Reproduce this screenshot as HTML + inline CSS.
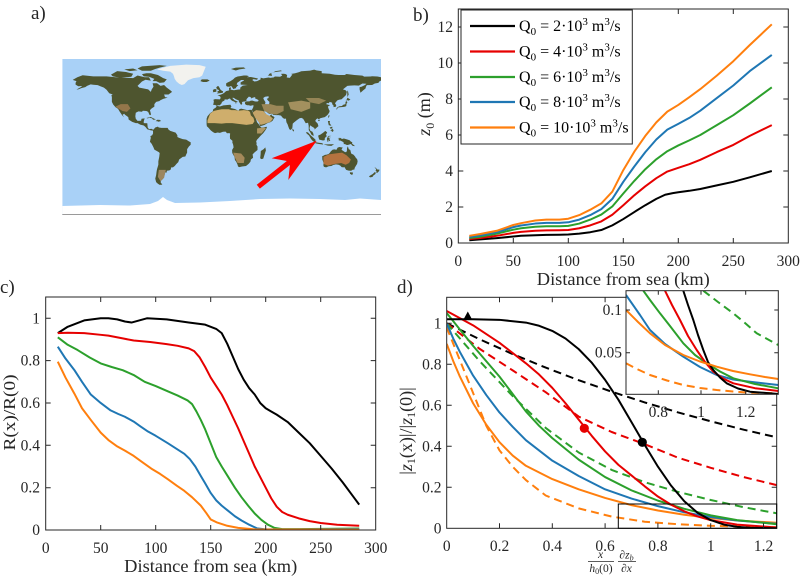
<!DOCTYPE html>
<html><head><meta charset="utf-8"><style>
html,body{margin:0;padding:0;background:#fff;}
svg{display:block;font-family:"Liberation Serif","DejaVu Serif","Times New Roman",serif;}
text,tspan{font-family:"Liberation Serif","DejaVu Serif","Times New Roman",serif;}
</style></head><body>
<svg width="800" height="577" viewBox="0 0 800 577" xmlns="http://www.w3.org/2000/svg" font-family="Liberation Serif, DejaVu Serif, serif">
<defs>
<clipPath id="cm"><rect x="62.3" y="59" width="318.7" height="156"/></clipPath>
<clipPath id="cb"><rect x="458.3" y="9" width="330" height="234"/></clipPath>
<clipPath id="cc"><rect x="45.7" y="297" width="330" height="233"/></clipPath>
<clipPath id="cd"><rect x="446.7" y="297.3" width="330" height="231"/></clipPath>
<clipPath id="ci"><rect x="626" y="290.7" width="152.3" height="103.6"/></clipPath>
</defs>

<!-- ============ PANEL A: map ============ -->
<text x="31" y="19" font-size="19" fill="#262626">a)</text>
<g clip-path="url(#cm)">
<rect x="62.3" y="59" width="318.7" height="156" fill="#a9d1f7"/>
<g transform="matrix(0.8853 0 0 -0.8667 221.65 137)" fill="#4e552f">
<polygon points="-168,66 -163,69 -157,71.3 -145,70 -130,70 -120,69 -110,68.5 -100,68 -95,71 -87,69 -82,69 -80,65 -86,66 -90,64 -93,61 -95,59 -93,57 -88,56 -83,55 -80,52 -79,55 -77,58 -78,62 -73,62 -69,59 -65,60 -62,57 -58,54 -56,52 -60,49 -65,49 -64,46 -61,45.5 -66,44 -70,42 -70,41.5 -74,40.5 -76,38 -76,35 -79,33 -81,31 -80,27 -80,25.3 -81.5,25.5 -83,29 -85,30 -89,30.3 -90,29.2 -94,29.6 -97,28 -97.5,24 -97,21 -95,18.6 -91,18.7 -90.5,21 -87,21.5 -88,18 -88,16 -84,15.8 -83.5,11 -82,9 -79.5,9.5 -77.5,8.5 -79,7.5 -81,8 -84,9 -86,11.5 -88,13.2 -92,14.3 -95,16 -97,16 -101,17.5 -105,20 -105.5,23 -109,25.5 -112,29 -114.5,31.5 -113,31 -110,27 -112,25.5 -110,23 -112,24.5 -115,29 -117,32.5 -120,34.5 -122.5,37.5 -124,40.5 -124,46 -124.5,48.3 -123,49 -127,50.5 -130,54.5 -133,57 -137,58.5 -140,59.8 -145,60.3 -148,60.7 -152,59 -154,57.5 -158,56.5 -162,55 -164,54.8 -159,57.5 -157.5,58.8 -162,58.6 -165,60.5 -165,62.5 -164,64.5 -168,65.7"/>
<polygon points="-80,73.5 -72,71.5 -66,68 -62,66.5 -65,63 -70,62.5 -74,64.5 -78,64.5 -76,67 -82,69.5 -88,70 -90,72.5 -85,73.5"/>
<polygon points="-90,76.5 -80,76.5 -75,78.5 -70,80 -62,82 -70,83 -90,81.5 -95,79"/>
<polygon points="-125,72 -118,76 -108,75 -100,73 -102,69.5 -115,68.5 -123,70"/>
<polygon points="-110,78 -100,79 -95,77 -104,76"/>
<polygon points="-24,64.5 -22.5,66.5 -16,66.5 -13.5,65 -17,63.5 -21,63.5"/>
<polygon points="-85,21.9 -82,22.7 -80,23.1 -77,21.5 -74.2,20.2 -77.5,19.9 -78.5,21.5 -81.5,22.2 -83.5,21.5"/>
<polygon points="-74.5,18.3 -72.7,19.9 -70,19.7 -68.4,18.5 -71.4,17.6 -72.5,18.2"/>
<polygon points="-80,8.5 -77,8.5 -75,11 -72,12 -71,11 -68,10.5 -64,10.5 -61,10.5 -60,8.5 -58,7 -55,6 -52,5 -50,2 -50,0 -48,-1 -44,-2.5 -40,-3 -37,-5 -35,-6 -35,-9 -37,-11 -39,-14 -39,-18 -40,-20 -41,-22.5 -44,-23 -48,-26 -49,-29 -51,-31 -53,-33.5 -55,-35 -57,-35 -57.5,-37.5 -59,-38.5 -62,-39 -62,-41 -65,-41 -64,-42.5 -65.5,-45 -67.5,-46.5 -66,-48 -68.5,-50.5 -69,-52 -68.5,-53 -67,-55 -70,-55.2 -72,-54 -74,-52 -75,-48 -74,-44 -73.5,-40 -73,-37 -71.5,-32 -71.5,-28 -70.5,-23 -70,-18.5 -71,-17.5 -76,-14.5 -77,-12 -79,-8 -81,-5.5 -80.5,-3 -80,-1 -80.5,1 -78.5,2 -77.5,4 -77.5,7"/>
<polygon points="-17,14.7 -17,21 -16,24 -13,27.5 -10,29.5 -9.5,32 -6.5,34 -5.5,36 -2,35.2 2,36.5 8,37 10,37.2 11,35 10,33.5 12,33 15,32.3 19,30.3 20,32 22,32.8 25,32 29,31 32,31.3 34,31.3 34.5,29 35.5,27.5 37,25 38.5,22 39,20 40,17 42.5,14 43.3,12.5 45,10.8 48,11.2 51,11.8 51,10.5 49.5,8 47,4.5 44,1.5 41.5,-1.5 40,-3 39,-5 39.5,-7 39.3,-9 40.5,-11 40.5,-15 37.5,-17.5 35,-20 35.5,-24 33,-26 32.5,-28.5 30.5,-31 27.5,-33.5 23,-34 20,-34.8 18.5,-34 18,-32 16.5,-28.5 15,-26.5 14.5,-23 12,-18.5 11.8,-15 13.5,-12 13,-9 12,-6 12.3,-4.5 9.5,-2 9.3,1 9.6,4 8.5,4.5 6,4.3 4.5,6.2 1.5,6 -2,4.8 -4.5,5.2 -7.5,4.4 -9.5,5.5 -12,7.3 -13.3,8.8 -15,10.8 -16.7,12.4"/>
<polygon points="43.5,-24.5 45,-25.5 47,-25 48.5,-20 50,-15.5 49.3,-12 47.5,-14 44.2,-16.2 44,-20"/>
<polygon points="-9.5,37 -8.8,41 -9.3,43 -7.5,43.7 -2,43.4 -1.3,44.5 -1.2,46.2 -2.5,47.3 -4.7,48 -1.5,48.7 1,49.8 3,51 5,53 8.5,53.8 8.3,56.6 10,57.6 10.5,56.3 10,54.8 12,54.2 14,54 18,54.7 21,55 21,57 23.8,59.3 28,59.8 29.5,60 25,60.3 21.5,60.5 21.4,63 25,65 25.2,65.8 22,65.8 17.5,62.5 17,60.5 18.8,59.8 16.5,57.5 16,56.2 13,55.4 12.5,56.5 10.8,58.8 8.5,58 6,58.2 5,59.5 5.2,62 7,63 10,64.5 13,66.5 15,68.5 18,69.8 21,70.2 25,71 28,71 31,70.3 28.5,69 33,69.3 41,67.5 40,66 36,66.8 34.5,65.8 37,64 40,64.5 44,66.5 44,68.5 47,67.7 53,68.6 55,68.2 59,68.8 60,69.8 66,69.5 68.5,71 67,72.8 70,73 72,72.7 74,71.5 73.5,68.6 77,68.2 80,72.2 78,72.7 83,73.6 87,74.7 90,75.8 100,76.6 104.5,77.7 107,76.8 113,76 113,73.5 122,73 128,71.8 132,71.5 139,71.5 141,72.7 150,71.6 159,70.8 161,69.6 168,69.8 170,70.1 176,69.8 180,68.9 180,65 178.5,64.5 177,62.5 173,61.7 170,60 164,59.9 163,58 162.5,56 160,54 156.8,51 155.8,55 155.8,57.5 158,58 162,60 163.5,61.5 159,61.7 155,59.3 150,59.5 145,59.3 142,59 137,55 140,54 141.4,52.2 140.5,48.5 138.5,46.5 135.5,43.5 132.5,43 130.7,42.3 129.6,40.9 128,39 129.4,36.8 129.2,35.1 126.5,34.4 126.2,36.7 125,37.7 124.7,39.6 122,40.5 121,39 119,39.2 118,38 121,37 122.5,36.9 120,35 121,32 122,30 121.5,28.3 120,26 118.5,24.5 116.5,22.9 114,22.3 111,21.5 110,20.3 108,21.5 106.5,20 105.7,18.5 108.5,15.5 109.3,12.5 107,10.5 105,8.7 104.8,10.3 101,12.7 100,13.5 99.2,10 100.3,7 101,6.8 102.5,6 103.5,4 104,1.5 103.3,1.4 101.3,2.9 100.3,5 98.4,8 98.3,13 97.6,16.5 95,15.8 94.3,17 93,19.5 92,21 90,22 88,21.6 86.8,20.7 85,19.5 82,17 80.3,15.5 80,12 79.8,10.3 78,8.1 76.5,8.9 75.4,11.8 74.5,14.6 73.2,17 72.8,19.5 72.7,21.2 70.5,21 68.8,22.3 67,24.7 64.4,25.2 61.5,25.2 58,25.7 57.3,26.7 56.4,27.1 54.5,26.5 52.4,27.6 51,28.8 50,30.2 48.5,30 48,29.5 48.6,28.2 49.5,27.2 50.2,26.3 50.8,24.7 51.6,24.2 52.6,24.2 54,24.1 55.5,25.5 56.3,26.2 56.8,24.5 58.7,23.6 59.8,22.5 58.5,20.6 57.8,19 56.5,18 55.3,17.2 52,16.1 48.5,14 45,12.8 43.5,12.7 42.7,15.5 42.3,17 40.9,19.5 39,21.7 38,24 36,26.8 35.2,28 34.6,28.1 34.9,29.5 34.2,31.2 34.6,32.1 35.5,33.9 36,35.8 35.8,36.8 34,36.3 32.5,36.1 30.6,36.6 29,36.7 27.6,37 26.3,38.2 26.5,39.3 26.2,40 28,41 29,41.1 31.2,41.1 33,42 35,42 36.9,41.3 38.4,40.9 40.4,41 41.6,41.5 41.5,42.7 39.1,44 37.5,44.7 38.2,46.2 35.3,45.4 33.6,44.5 32.5,45.3 33.6,46 31.7,46.3 30.7,46.6 29.6,45.3 28.7,44.4 28,43.2 27.9,42 28.2,41.4 26.3,40.9 25.1,40.9 23.7,40.5 22.8,40.5 23.3,39.2 22.8,37.3 21.5,37.5 21.1,38.3 20.2,39.6 19.4,40.8 19.5,42 18.5,42.5 16,43.5 15.2,44.2 13.7,45.2 12.3,45.3 12.3,44.6 13.5,43.6 14.1,42.7 15.6,41.9 17.6,40.9 18.5,40.2 16.9,40.4 16.5,39.5 16.6,38.8 15.6,38.2 16.1,39.5 15.4,40 13.9,40.9 12.2,41.6 10.5,42.9 9.6,44.1 8.9,44.4 7.5,43.8 6.5,43.1 4.5,43.4 3.2,43.1 3.1,41.9 1,41 0.1,39.7 -0.3,39.3 0,38.9 -1.4,37.4 -2.1,36.7 -4.4,36.7 -5.4,35.9 -6.2,36.4 -7.4,37.1 -8.9,36.9"/>
<polygon points="-5.7,50 1.3,51.1 1.7,52.7 0,53.5 -1.5,55 -2,56 -3.3,58.6 -5,58.6 -6.2,56.8 -5,55 -3.2,54.2 -3,53.4 -4.5,52.8 -5.2,51.7 -3.5,51.4"/>
<polygon points="-10,51.7 -6,52.2 -6,54 -5.9,55.2 -8.2,55.2 -10,54.2 -9.5,53"/>
<polygon points="10.5,78.5 16,80 25,80.4 27,79 20,78 16,76.7"/>
<polygon points="52,71 57,70.5 56,73.5 61,76 67,76.9 68,76 58,74.5 54,73 53,71.5"/>
<polygon points="130,31.2 131,33.5 132,34.2 135,34.5 137,34.6 139.5,35 140.8,35.8 141,38.3 142,39.8 141.3,41.4 140,40.7 139.8,38 138.5,37.5 137,37 136,35.7 133,35.5 131,34.5 129.7,33"/>
<polygon points="140,41.5 141.5,42.5 143.5,42 145.5,43.3 144,44.2 142,45.4 141.5,43.5"/>
<polygon points="142,46 143.5,49 142.5,54 141.8,52 142,48"/>
<polygon points="79.8,8 81.5,6.2 81.8,7.5 80.2,9.8"/>
<polygon points="120.2,23 121,25.2 122,24.6 120.8,22"/>
<polygon points="108.7,19 110,20 111,19.5 110,18.2"/>
<polygon points="120,18.5 122.3,18.4 122,16 124,13 121,13.5 120.6,15.5"/>
<polygon points="122,7 125.5,9.5 126.5,7 125,5.8 123.5,7.7"/>
<polygon points="122,11 125,12 125,10 123,9.5"/>
<polygon points="95.2,5.6 97.5,5.3 100.3,2.2 103.8,-1 106,-3 106,-5.9 104.5,-5.8 102.3,-4 100.8,-2 98.7,1.7 96,4"/>
<polygon points="105.2,-6.8 106.5,-6 110.5,-6.8 112.6,-6.9 114.6,-7.8 114.4,-8.7 110,-8.1 106.4,-7.4"/>
<polygon points="109,1.5 109.6,-1 110.2,-3 114.5,-4 116.4,-3.6 116.5,-1.5 117.7,0.1 118.9,1 117.8,2.5 119.2,5.3 117,7 116,6 114,4.5 111.5,2.8 109.7,2"/>
<polygon points="119.5,-5.5 119.3,-3.5 118.8,-2.5 119.8,0.2 120.9,1.3 124.5,1.4 125,1.6 121,0.5 120.5,-0.8 121.5,-1 123.3,-0.8 121.5,-1.9 122.7,-4.4 121.6,-4.8 120.9,-2.7 120.4,-5.5"/>
<polygon points="115,-8.5 119,-8.5 124,-8.3 127,-8.3 124,-10.3 120,-10"/>
<polygon points="131,-1.2 134,-1 136,-2.3 138,-1.7 141,-2.6 144.5,-3.8 146,-5.3 147.6,-6.1 147.2,-7.5 150.7,-10.6 148,-10.2 146,-8.1 143.3,-9 142.6,-9.3 141,-9.1 139.1,-8.1 138.1,-8.3 137.6,-5.9 134,-4 132.4,-4 132,-2.8 133.2,-2.2"/>
<polygon points="113.6,-22 113.7,-26 115,-29.5 115,-33.5 115.7,-34.4 118,-35 121,-33.8 124,-33.5 126,-32.3 129,-31.6 132,-32 134,-33 135.5,-34.8 137.7,-35 138.5,-34.5 139.5,-36 140.6,-38 143.5,-38.8 146.3,-39 148,-37.8 150,-37.5 150.2,-35.7 151.5,-33.5 153,-31 153.6,-28 153,-25.5 151.5,-24 150.7,-22.5 149,-20.5 146.3,-19 145.3,-15 143.6,-14 142.5,-10.7 141.6,-12.9 141.5,-16 140.7,-17.4 139.3,-17.4 137,-15.9 135.4,-14.7 136,-13.3 136.9,-12.3 135.5,-12 133,-11.5 131,-12.2 129.6,-14.9 127.8,-14.3 125.5,-14.5 123.4,-16.5 122.2,-18.2 121,-19.5 118.8,-20.3 116.7,-20.6 114.6,-21.8"/>
<polygon points="144.7,-40.7 148.3,-40.9 148,-43.2 146.5,-43.6 145,-42.2"/>
<polygon points="172.6,-34.4 174.5,-36 175.9,-37.5 178.3,-37.6 177.9,-39.2 176,-41.3 174.6,-41.3 175,-39.5 173.8,-39.2 174.6,-37.5"/>
<polygon points="172.7,-40.5 174.3,-41.3 173.4,-43 171.5,-44.3 170.6,-45.9 168.3,-46.6 166.5,-46 167,-45 168.5,-44 170.5,-42.9 172,-41.4"/>
<polygon fill="#a9d1f7" points="47,45 49,46.5 53,47 53,45 51,44 52.5,41.8 53.9,40.7 53.9,38.9 53,36.8 51,36.8 49,38 49.5,40.2 48,42.5 47.5,43.5"/>
<polygon fill="#cfae6c" points="-16,19 -13,27 -9,30 -5,31 0,32 8,32 11,31 15,31 20,30.5 25,31 30,30.5 32,29 33,25 36,22 37,18 35,15 28,14 20,15 12,16 5,16 0,15.5 -8,16 -16,16"/>
<polygon fill="#c4a468" points="36,29 39,31 47,30 50,26.5 55,24 58,21 55,17.5 48,15 44,14 42,17 38,22 35,28"/>
<polygon fill="#9a8758" points="45,38 55,38 62,36 70,36 70,30 62,26 55,27 48,30"/>
<polygon fill="#a3905e" points="75,40 90,42 100,40 100,33 90,29 78,32"/>
<polygon fill="#958556" points="95,45 110,45 118,42 110,38 100,40"/>
<polygon fill="#b3733f" points="115,-23 115,-31 120,-33 128,-31 135,-30 140,-32 144,-30 146,-26 141,-21 136,-18 128,-19 121,-20"/>
<polygon fill="#94764a" points="-120,35 -114,38 -106,38 -103,33 -107,29 -112,30 -117,33"/>
<polygon fill="#9c8760" points="-71,-38 -63,-38 -65,-47 -69,-51 -72,-46"/>
<polygon fill="#a4895a" points="13,-18 22,-19 26,-24 25,-30 18,-30 15,-24"/>
<polygon fill="#ad9662" points="40,10 48,11 50,10 45,4 40,4"/>
<polygon fill="#f2f2ee" points="-73,78 -66,80 -58,82 -40,83.5 -25,83 -18,81 -20,76 -22,71 -25,69 -32,68 -38,65.5 -42,61 -45,60 -48,61.5 -51,64 -53,67 -54,70.5 -55,73 -58,75.5 -66,76.5"/>
</g>
<polygon fill="#ffffff" points="62.3,206 100,205 130,205.5 150,204 158,201 163,197 167,200 175,203 200,202.5 230,201 260,199 290,198.5 320,199 345,200 360,198.5 381,200 381,215 62.3,215"/>
</g>
<line x1="62.3" y1="214.5" x2="381" y2="214.5" stroke="#9a9a9a" stroke-width="1"/>
<polygon fill="#ff0000" points="316.7,140.7 271.7,158.3 286.85,161.03 256.75,184.73 259.85,188.67 289.95,164.97 288.3,180"/>

<!-- ============ PANEL B ============ -->
<text x="413" y="21" font-size="19" fill="#262626">b)</text>
<g clip-path="url(#cb)" fill="none" stroke-width="2" stroke-linejoin="round">
<g transform="matrix(1.1 0 0 -18 458.3 243)">
<polyline vector-effect="non-scaling-stroke" stroke="#000" points="10,0.15 20,0.2 35,0.27 50,0.36 57,0.4 70,0.43 80,0.45 92,0.46 100,0.47 110,0.52 120,0.6 130,0.72 140,0.98 150,1.33 160,1.72 170,2.1 180,2.45 188,2.68 195,2.77 200,2.82 210,2.9 220,3.0 235,3.2 250,3.4 265,3.65 285,4.0"/>
<polyline vector-effect="non-scaling-stroke" stroke="#e60000" points="10,0.22 20,0.28 35,0.4 50,0.56 57,0.62 70,0.68 80,0.7 92,0.71 100,0.72 110,0.82 120,0.98 130,1.2 140,1.57 150,2.1 160,2.65 170,3.15 180,3.6 190,3.97 200,4.18 210,4.38 220,4.62 235,5.05 250,5.45 265,5.95 285,6.55"/>
<polyline vector-effect="non-scaling-stroke" stroke="#2ca02c" points="10,0.28 20,0.35 35,0.52 50,0.74 57,0.82 70,0.9 80,0.93 92,0.93 100,0.95 110,1.08 120,1.3 130,1.58 140,2.03 150,2.75 160,3.45 170,4.1 180,4.65 190,5.1 200,5.42 210,5.7 220,6.0 235,6.55 250,7.1 265,7.75 285,8.65"/>
<polyline vector-effect="non-scaling-stroke" stroke="#1f77b4" points="10,0.33 20,0.42 35,0.6 50,0.88 57,0.97 70,1.08 80,1.12 92,1.12 100,1.15 110,1.3 120,1.55 130,1.88 140,2.45 150,3.4 160,4.25 170,5.05 180,5.75 190,6.3 200,6.62 210,6.95 220,7.35 235,8.05 250,8.75 265,9.55 285,10.45"/>
<polyline vector-effect="non-scaling-stroke" stroke="#ff7f0e" points="10,0.4 20,0.5 35,0.68 50,1.0 57,1.1 70,1.25 80,1.3 92,1.3 100,1.35 110,1.55 120,1.85 130,2.2 140,2.85 150,4.05 160,5.07 170,5.95 180,6.7 190,7.3 200,7.67 210,8.1 220,8.55 235,9.3 250,10.1 265,11.0 285,12.15"/>
</g>
</g>
<rect x="458.3" y="9" width="330" height="234" fill="none" stroke="#262626" stroke-width="1"/>
<path stroke="#262626" stroke-width="1" fill="none" d="M513.3,243v-5M568.3,243v-5M623.3,243v-5M678.3,243v-5M733.3,243v-5M513.3,9v5M568.3,9v5M623.3,9v5M678.3,9v5M733.3,9v5M458.3,207h5M458.3,171h5M458.3,135h5M458.3,99h5M458.3,63h5M458.3,27h5M788.3,207h-5M788.3,171h-5M788.3,135h-5M788.3,99h-5M788.3,63h-5M788.3,27h-5"/>
<g font-size="15.5" fill="#262626" text-anchor="end">
<text x="453" y="248">0</text><text x="453" y="212">2</text><text x="453" y="176">4</text><text x="453" y="140">6</text><text x="453" y="104">8</text><text x="453" y="68">10</text><text x="453" y="32">12</text>
</g>
<g font-size="15.5" fill="#262626" text-anchor="middle">
<text x="458.3" y="266">0</text><text x="513.3" y="266">50</text><text x="568.3" y="266">100</text><text x="623.3" y="266">150</text><text x="678.3" y="266">200</text><text x="733.3" y="266">250</text><text x="788.3" y="266">300</text>
</g>
<text x="623.3" y="285" font-size="18" fill="#262626" text-anchor="middle" textLength="173" lengthAdjust="spacingAndGlyphs">Distance from sea (km)</text>
<text transform="translate(430,114) rotate(-90)" font-size="18" fill="#262626" text-anchor="middle"><tspan font-style="italic">z</tspan><tspan font-size="12" dy="4">0</tspan><tspan dy="-4"> (m)</tspan></text>
<!-- legend -->
<rect x="461" y="10" width="171.3" height="134" fill="#fff" stroke="#262626" stroke-width="1"/>
<g stroke-width="2.2">
<line x1="470" y1="26" x2="515" y2="26" stroke="#000"/>
<line x1="470" y1="51.5" x2="515" y2="51.5" stroke="#e60000"/>
<line x1="470" y1="77" x2="515" y2="77" stroke="#2ca02c"/>
<line x1="470" y1="102" x2="515" y2="102" stroke="#1f77b4"/>
<line x1="470" y1="127.5" x2="515" y2="127.5" stroke="#ff7f0e"/>
</g>
<g font-size="16" fill="#000">
<text x="519" y="31">Q<tspan font-size="11" dy="4">0</tspan><tspan dy="-4"> = 2·10</tspan><tspan font-size="11" dy="-6">3</tspan><tspan dy="6"> m</tspan><tspan font-size="11" dy="-6">3</tspan><tspan dy="6">/s</tspan></text>
<text x="519" y="56.5">Q<tspan font-size="11" dy="4">0</tspan><tspan dy="-4"> = 4·10</tspan><tspan font-size="11" dy="-6">3</tspan><tspan dy="6"> m</tspan><tspan font-size="11" dy="-6">3</tspan><tspan dy="6">/s</tspan></text>
<text x="519" y="82">Q<tspan font-size="11" dy="4">0</tspan><tspan dy="-4"> = 6·10</tspan><tspan font-size="11" dy="-6">3</tspan><tspan dy="6"> m</tspan><tspan font-size="11" dy="-6">3</tspan><tspan dy="6">/s</tspan></text>
<text x="519" y="107">Q<tspan font-size="11" dy="4">0</tspan><tspan dy="-4"> = 8·10</tspan><tspan font-size="11" dy="-6">3</tspan><tspan dy="6"> m</tspan><tspan font-size="11" dy="-6">3</tspan><tspan dy="6">/s</tspan></text>
<text x="519" y="132.5">Q<tspan font-size="11" dy="4">0</tspan><tspan dy="-4"> = 10·10</tspan><tspan font-size="11" dy="-6">3</tspan><tspan dy="6"> m</tspan><tspan font-size="11" dy="-6">3</tspan><tspan dy="6">/s</tspan></text>
</g>

<!-- ============ PANEL C ============ -->
<text x="0" y="293" font-size="19" fill="#262626">c)</text>
<g clip-path="url(#cc)" fill="none" stroke-width="2" stroke-linejoin="round">
<g transform="matrix(1.1 0 0 -211.7 45.7 530)">
<polyline vector-effect="non-scaling-stroke" stroke="#000" points="11,0.93 20,0.96 35,0.99 50,1.0 57,1.0 65,0.995 72,0.985 78,0.98 85,0.99 92,1.0 110,0.995 130,0.98 145,0.97 155,0.95 160,0.93 165,0.88 170,0.82 175,0.76 180,0.71 185,0.67 190,0.64 195,0.6 200,0.575 205,0.56 210,0.545 220,0.51 230,0.46 240,0.41 250,0.35 260,0.29 270,0.225 280,0.155 285,0.12"/>
<polyline vector-effect="non-scaling-stroke" stroke="#e60000" points="11,0.93 20,0.932 35,0.93 50,0.922 57,0.918 70,0.905 80,0.895 95,0.888 110,0.878 120,0.87 130,0.858 135,0.845 140,0.815 145,0.77 150,0.72 155,0.68 160,0.64 165,0.59 170,0.535 175,0.48 180,0.42 185,0.36 190,0.3 195,0.25 200,0.2 205,0.15 210,0.11 215,0.085 220,0.072 230,0.055 240,0.042 250,0.033 265,0.025 285,0.02"/>
<polyline vector-effect="non-scaling-stroke" stroke="#2ca02c" points="11,0.91 20,0.875 29,0.85 40,0.815 50,0.787 60,0.77 70,0.755 80,0.732 90,0.70 100,0.68 111,0.655 120,0.635 129,0.612 133,0.595 137,0.56 141,0.52 145,0.475 150,0.41 155,0.345 160,0.3 166,0.25 172,0.2 178,0.155 184,0.115 190,0.078 196,0.048 202,0.025 208,0.01 215,0.004 230,0.004 285,0.007"/>
<polyline vector-effect="non-scaling-stroke" stroke="#1f77b4" points="11,0.866 18,0.81 26,0.756 33,0.70 41,0.64 50,0.6 59,0.565 66,0.548 72,0.535 80,0.512 86,0.49 93,0.465 100,0.445 111,0.41 120,0.38 126,0.36 131,0.335 136,0.3 141,0.255 145,0.22 150,0.175 155,0.14 160,0.115 166,0.09 172,0.065 178,0.045 185,0.025 192,0.008 200,0.003 220,0.003 285,0.004"/>
<polyline vector-effect="non-scaling-stroke" stroke="#ff7f0e" points="11,0.795 18,0.72 26,0.645 33,0.575 41,0.52 50,0.46 57,0.425 65,0.395 72,0.375 80,0.35 88,0.32 96,0.29 104,0.265 111,0.24 119,0.21 126,0.185 133,0.155 141,0.115 146,0.08 150,0.05 156,0.035 165,0.02 175,0.01 190,0.003 285,0.002"/>
</g>
</g>
<rect x="45.7" y="297" width="330" height="233" fill="none" stroke="#262626" stroke-width="1"/>
<path stroke="#262626" stroke-width="1" fill="none" d="M100.7,530v-5M155.7,530v-5M210.7,530v-5M265.7,530v-5M320.7,530v-5M100.7,297v5M155.7,297v5M210.7,297v5M265.7,297v5M320.7,297v5M45.7,487.7h5M45.7,445.3h5M45.7,403h5M45.7,360.6h5M45.7,318.3h5M375.7,487.7h-5M375.7,445.3h-5M375.7,403h-5M375.7,360.6h-5M375.7,318.3h-5"/>
<g font-size="15.5" fill="#262626" text-anchor="end">
<text x="40" y="535">0</text><text x="40" y="492.7">0.2</text><text x="40" y="450.3">0.4</text><text x="40" y="408">0.6</text><text x="40" y="365.6">0.8</text><text x="40" y="323.3">1</text>
</g>
<g font-size="15.5" fill="#262626" text-anchor="middle">
<text x="45.7" y="553">0</text><text x="100.7" y="553">50</text><text x="155.7" y="553">100</text><text x="210.7" y="553">150</text><text x="265.7" y="553">200</text><text x="320.7" y="553">250</text><text x="375.7" y="553">300</text>
</g>
<text x="210.7" y="572" font-size="18" fill="#262626" text-anchor="middle" textLength="173" lengthAdjust="spacingAndGlyphs">Distance from sea (km)</text>
<text transform="translate(15,412.5) rotate(-90)" font-size="17" fill="#262626" text-anchor="middle" textLength="76" lengthAdjust="spacingAndGlyphs">R(x)/R(0)</text>

<!-- ============ PANEL D ============ -->
<text x="397" y="293" font-size="19" fill="#262626">d)</text>
<g clip-path="url(#cd)" fill="none" stroke-width="2" stroke-linejoin="round">
<g stroke-dasharray="8,5">
<polyline stroke="#000" points="446.7,323.3 479.7,339.3 512.7,354.1 545.7,367.6 578.7,380.2 611.7,391.7 644.7,402.4 677.7,412.3 710.7,421.3 743.7,429.7 776.7,437.3"/>
<polyline stroke="#e60000" points="446.7,323.3 479.7,348.9 512.7,370.4 545.7,392.2 578.7,416.6 611.7,432 644.7,444.2 677.7,457.6 710.7,467.8 743.7,477.1 776.7,485.1"/>
<polyline stroke="#2ca02c" points="446.7,323.3 479.7,361.2 512.7,396.1 545.7,427.9 578.7,452.5 611.7,469.9 644.7,482.2 677.7,491.8 710.7,500 743.7,507.2 776.7,513.3"/>
<polyline stroke="#ff7f0e" points="446.7,327.4 459.9,360.2 473.1,393 486.3,425.8 499.5,450.4 512.7,466.8 525.9,480.1 545.7,495.5 578.7,508.4 611.7,516.6 644.7,521.7 677.7,524.2 710.7,525.8 776.7,527.3"/>
</g>
<g transform="matrix(264 0 0 -205 446.7 528.3)">
<polyline vector-effect="non-scaling-stroke" stroke="#ff7f0e" points="0,0.9 0.025,0.815 0.05,0.74 0.1,0.61 0.15,0.505 0.2,0.42 0.25,0.355 0.3,0.305 0.4,0.24 0.5,0.19 0.6,0.148 0.7,0.113 0.8,0.087 0.9,0.066 1.0,0.05 1.1,0.038 1.25,0.027"/>
<polyline vector-effect="non-scaling-stroke" stroke="#1f77b4" points="0,1.0 0.025,0.925 0.05,0.86 0.1,0.745 0.15,0.65 0.2,0.565 0.25,0.495 0.3,0.43 0.4,0.33 0.5,0.255 0.6,0.19 0.7,0.145 0.8,0.108 0.9,0.078 1.0,0.055 1.1,0.038 1.25,0.022"/>
<polyline vector-effect="non-scaling-stroke" stroke="#2ca02c" points="0,1.05 0.05,0.97 0.1,0.89 0.15,0.815 0.2,0.74 0.25,0.655 0.3,0.57 0.35,0.5 0.4,0.44 0.5,0.335 0.6,0.25 0.7,0.185 0.8,0.135 0.9,0.095 1.0,0.063 1.1,0.04 1.25,0.02"/>
<polyline vector-effect="non-scaling-stroke" stroke="#e60000" points="0,1.06 0.1,0.99 0.2,0.905 0.3,0.805 0.35,0.75 0.4,0.685 0.45,0.61 0.5,0.53 0.55,0.45 0.6,0.375 0.65,0.31 0.7,0.258 0.75,0.205 0.8,0.155 0.85,0.115 0.9,0.083 0.95,0.058 1.0,0.04 1.1,0.018 1.25,0.004"/>
<polyline vector-effect="non-scaling-stroke" stroke="#000" points="0,1.02 0.1,1.02 0.2,1.017 0.3,1.0035 0.35,0.988 0.4,0.963 0.45,0.926 0.5,0.874 0.55,0.807 0.6,0.724 0.65,0.628 0.7,0.518 0.75,0.407 0.8,0.301 0.85,0.208 0.9,0.132 0.95,0.076 1.0,0.04 1.05,0.018 1.1,0.0072 1.15,0.0026 1.25,0.0003"/>
</g>
</g>
<polygon points="467.8,311.5 463.2,320 472.4,320" fill="#000"/>
<circle cx="642.3" cy="442.3" r="4.6" fill="#000"/>
<circle cx="584.3" cy="428.3" r="4.6" fill="#e60000"/>
<rect x="446.7" y="297.3" width="330" height="231" fill="none" stroke="#262626" stroke-width="1"/>
<path stroke="#262626" stroke-width="1" fill="none" d="M499.5,528.3v-5M552.3,528.3v-5M605.1,528.3v-5M657.9,528.3v-5M710.7,528.3v-5M763.5,528.3v-5M499.5,297.3v5M552.3,297.3v5M605.1,297.3v5M446.7,487.3h5M446.7,446.3h5M446.7,405.3h5M446.7,364.3h5M446.7,323.3h5M776.7,487.3h-5M776.7,446.3h-5M776.7,405.3h-5"/>
<rect x="618.3" y="504" width="158.4" height="24.3" fill="none" stroke="#000" stroke-width="1"/>
<g font-size="15.5" fill="#262626" text-anchor="end">
<text x="441.5" y="533.3">0</text><text x="441.5" y="492.3">0.2</text><text x="441.5" y="451.3">0.4</text><text x="441.5" y="410.3">0.6</text><text x="441.5" y="369.3">0.8</text><text x="441.5" y="328.3">1</text>
</g>
<g font-size="15.5" fill="#262626" text-anchor="middle">
<text x="446.7" y="551">0</text><text x="499.5" y="551">0.2</text><text x="552.3" y="551">0.4</text><text x="605.1" y="551">0.6</text><text x="657.9" y="551">0.8</text><text x="710.7" y="551">1</text><text x="763.5" y="551">1.2</text>
</g>
<text transform="translate(412,431) rotate(-90)" font-size="18" fill="#262626" text-anchor="middle">|<tspan font-style="italic">z</tspan><tspan font-size="12" dy="3">1</tspan><tspan dy="-3">(x)|/|</tspan><tspan font-style="italic">z</tspan><tspan font-size="12" dy="3">1</tspan><tspan dy="-3">(0)|</tspan></text>
<!-- x label fraction -->
<g fill="#262626" font-size="11.5">
<text x="600.5" y="558" font-style="italic" text-anchor="middle">x</text>
<text x="601" y="572" text-anchor="middle"><tspan font-style="italic">h</tspan><tspan font-size="8" dy="2">0</tspan><tspan dy="-2">(0)</tspan></text>
<text x="626.5" y="558.5" text-anchor="middle">∂<tspan font-style="italic">z</tspan><tspan font-size="8" font-style="italic" dy="2">b</tspan></text>
<text x="626.5" y="572" text-anchor="middle">∂<tspan font-style="italic">x</tspan></text>
</g>
<line x1="588" y1="561.5" x2="614" y2="561.5" stroke="#262626" stroke-width="0.8"/>
<line x1="618" y1="561.5" x2="636" y2="561.5" stroke="#262626" stroke-width="0.8"/>

<!-- inset -->
<rect x="626" y="290.7" width="152.3" height="103.6" fill="#fff"/>
<g clip-path="url(#ci)" fill="none" stroke-width="2" stroke-linejoin="round">
<polyline stroke="#ff7f0e" stroke-dasharray="8,5" points="626,363.3 638,369.5 650,375 667,380.5 683.3,385 700,388 716.7,390 733,391.5 750,392.7 778.3,393.3"/>
<polyline stroke="#2ca02c" stroke-dasharray="8,5" points="703.3,290.7 718,302 733.3,313.3 745,323 756.7,333.3 778.3,345"/>
<polyline stroke="#1f77b4" points="626,295 640,315 650,330 665,344 683.3,356.7 700,367 716.7,375 733,379.5 750,381.7 765,383.5 778.3,385"/>
<polyline stroke="#2ca02c" points="643.3,290.7 650,300 660,313.3 670,326 683.3,343.3 695,355 706.7,363.3 720,371.5 733.3,378.3 755,384 778.3,388.3"/>
<polyline stroke="#e60000" points="665,290.7 672,305 680,320 688,336 696.7,350 705,362 713.3,371.7 723,378.5 733.3,383.3 755,388.2 778.3,391"/>
<polyline stroke="#000" points="683.3,290.7 688,305 693.3,320 698,335 703.3,350 708,362 713.3,370 720,377.5 726.7,383.3 738,388.5 750,391.7 778.3,394"/>
<polyline stroke="#ff7f0e" points="626,310 638,322 650,333.3 665,345 683.3,355 700,361.5 716.7,366.7 733,371 750,374.3 765,377 778.3,379"/>
</g>
<rect x="626" y="290.7" width="152.3" height="103.6" fill="none" stroke="#262626" stroke-width="1"/>
<path stroke="#262626" stroke-width="1" fill="none" d="M658.3,394.3v-4M701,394.3v-4M745.7,394.3v-4M658.3,290.7v4M701,290.7v4M745.7,290.7v4M626,310h4M626,352.7h4M778.3,310h-4M778.3,352.7h-4"/>
<g font-size="15.5" fill="#262626">
<text x="622" y="315" text-anchor="end">0.1</text>
<text x="622" y="357.7" text-anchor="end">0.05</text>
<text x="658.3" y="417" text-anchor="middle">0.8</text>
<text x="701" y="417" text-anchor="middle">1</text>
<text x="745.7" y="417" text-anchor="middle">1.2</text>
</g>
</svg>
</body></html>
